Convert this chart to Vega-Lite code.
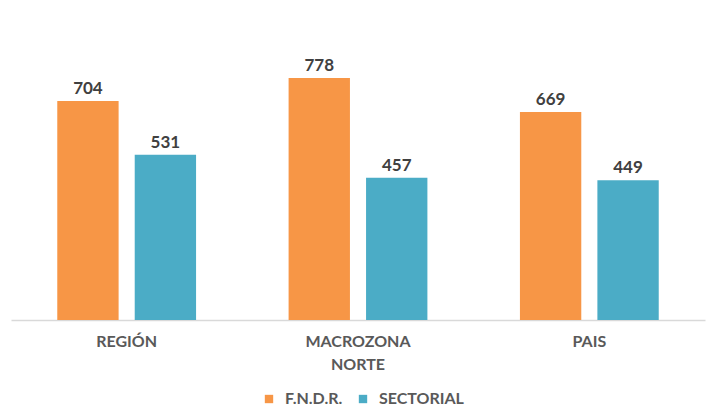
{
  "$schema": "https://vega.github.io/schema/vega-lite/v6.json",
  "width": 694,
  "height": 311,
  "autosize": {"type": "none"},
  "padding": {"left": 11, "top": 9, "right": 2, "bottom": 93},
  "background": "white",
  "config": {
    "view": {"stroke": null},
    "font": "Lato"
  },
  "data": {
    "values": [
      {"zona": "REGIÓN", "tipo": "F.N.D.R.", "valor": 704},
      {"zona": "REGIÓN", "tipo": "SECTORIAL", "valor": 531},
      {"zona": "MACROZONA NORTE", "tipo": "F.N.D.R.", "valor": 778},
      {"zona": "MACROZONA NORTE", "tipo": "SECTORIAL", "valor": 457},
      {"zona": "PAIS", "tipo": "F.N.D.R.", "valor": 669},
      {"zona": "PAIS", "tipo": "SECTORIAL", "valor": 449}
    ]
  },
  "encoding": {
    "x": {
      "field": "zona", "type": "nominal", "sort": null,
      "scale": {"paddingInner": 0.4, "paddingOuter": 0.2},
      "axis": {
        "title": null, "labelAngle": 0, "ticks": false, "domainColor": "#d9d9d9", "domainWidth": 1.5,
        "labelFont": "Lato", "labelFontWeight": "bold", "labelFontSize": 16, "labelColor": "#595959",
        "labelPadding": 13, "labelLineHeight": 23,
        "labelExpr": "datum.label == 'MACROZONA NORTE' ? ['MACROZONA', 'NORTE'] : datum.label"
      }
    },
    "xOffset": {"field": "tipo", "type": "nominal", "sort": ["F.N.D.R.", "SECTORIAL"], "scale": {"paddingInner": 0.208, "paddingOuter": 0}},
    "y": {"field": "valor", "type": "quantitative", "scale": {"domain": [0, 1000]}, "axis": null}
  },
  "layer": [
    {
      "mark": {"type": "bar"},
      "encoding": {
        "color": {
          "field": "tipo", "type": "nominal",
          "scale": {"domain": ["F.N.D.R.", "SECTORIAL"], "range": ["#F79646", "#4BACC6"]},
          "legend": {
            "title": null, "orient": "none", "direction": "horizontal", "legendX": 250, "legendY": 382,
            "symbolType": "square", "symbolSize": 70, "symbolStrokeWidth": 0,
            "labelFont": "Lato", "labelFontWeight": "bold", "labelFontSize": 16, "labelColor": "#595959",
            "columnPadding": 12, "labelOffset": 8
          }
        }
      }
    },
    {
      "mark": {"type": "text", "baseline": "alphabetic", "dy": -7, "font": "Lato", "fontWeight": "bold", "fontSize": 17, "color": "#404040"},
      "encoding": {"text": {"field": "valor", "type": "quantitative"}}
    }
  ]
}
